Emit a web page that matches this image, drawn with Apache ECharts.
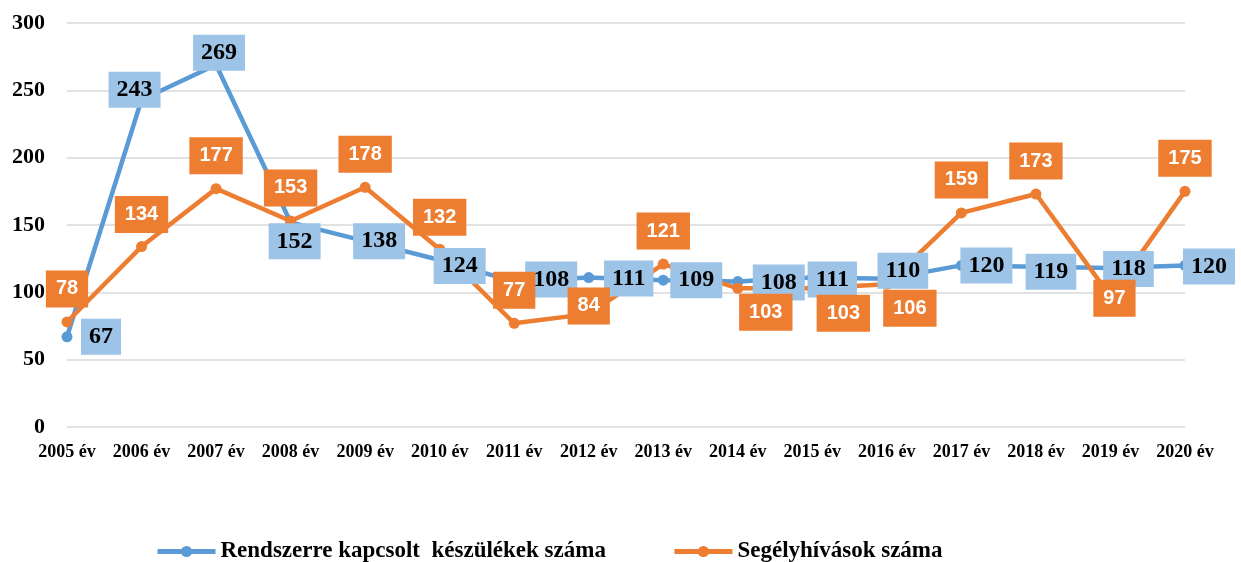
<!DOCTYPE html>
<html>
<head>
<meta charset="utf-8">
<script src="https://cdn.jsdelivr.net/npm/echarts@6/dist/echarts.min.js"></script>
<style>
  html, body { margin: 0; padding: 0; background: #fff; }
  #chart { width: 1241px; height: 562px; }
</style>
</head>
<body>
<div id="chart"></div>
<script>
var years = ['2005 év', '2006 év', '2007 év', '2008 év', '2009 év', '2010 év', '2011 év', '2012 év',
    '2013 év', '2014 év', '2015 év', '2016 év', '2017 év', '2018 év', '2019 év', '2020 év'];

var keszulekek = [67, 243, 269, 152, 138, 124, 108, 111, 109, 108, 111, 110, 120, 119, 118, 120];
var hivasok = [78, 134, 177, 153, 178, 132, 77, 84, 121, 103, 103, 106, 159, 173, 97, 175];

var seriesNames = ['Rendszerre kapcsolt  készülékek száma', 'Segélyhívások száma'];

// label offsets from the point (px), like the hand-placed labels in the original
var blueOffsets = [[34, 0], [-7, -10], [3, -12], [4, 19], [14, 0], [20, 6], [37, -2], [40, 1],
    [33, 0], [41, 1], [20, 2], [16, -8], [25, 0], [15, 5], [18, 1], [24, 1]];
var orangeOffsets = [[0, -33], [0, -32], [0, -33], [0, -33], [0, -33], [0, -32], [0, -33], [0, -8],
    [0, -33], [28, 24], [31, 25], [23, 24], [0, -33], [0, -33], [4, 2], [0, -33]];

function withOffsets(values, offsets) {
    return values.map(function (v, i) {
        return { value: v, label: { offset: offsets[i] } };
    });
}

var chart = echarts.init(document.getElementById('chart'));

var option = {
    animation: false,
    grid: { left: 67, right: 56, top: 23, bottom: 135 },
    legend: {
        data: seriesNames,
        left: 150,
        top: 535,
        itemWidth: 58,
        itemHeight: 14,
        itemGap: 66,
        lineStyle: { width: 5 },
        textStyle: { fontFamily: 'Liberation Serif', fontWeight: 'bold', fontSize: 23, color: '#000' }
    },
    xAxis: {
        type: 'category',
        data: years,
        boundaryGap: false,
        axisLine: { show: false },
        axisTick: { show: false },
        axisLabel: {
            interval: 0,
            margin: 16,
            color: '#000',
            fontFamily: 'Liberation Serif',
            fontWeight: 'bold',
            fontSize: 18
        }
    },
    yAxis: {
        type: 'value',
        min: 0,
        max: 300,
        interval: 50,
        axisLine: { show: false },
        axisTick: { show: false },
        splitLine: { lineStyle: { color: '#D9D9D9', width: 1.5 } },
        axisLabel: {
            margin: 22,
            color: '#000',
            fontFamily: 'Liberation Serif',
            fontWeight: 'bold',
            fontSize: 22
        }
    },
    series: [
        {
            name: seriesNames[0],
            type: 'line',
            data: withOffsets(keszulekek, blueOffsets),
            color: '#5B9BD5',
            lineStyle: { width: 4.5 },
            symbol: 'circle',
            symbolSize: 11,
            label: {
                show: true,
                position: 'inside',
                backgroundColor: '#9DC3E6',
                color: '#000',
                fontFamily: 'Liberation Serif',
                fontWeight: 'bold',
                fontSize: 24,
                lineHeight: 22,
                padding: [7, 8]
            }
        },
        {
            name: seriesNames[1],
            type: 'line',
            data: withOffsets(hivasok, orangeOffsets),
            color: '#ED7D31',
            lineStyle: { width: 4.5 },
            symbol: 'circle',
            symbolSize: 11,
            label: {
                show: true,
                position: 'inside',
                backgroundColor: '#ED7D31',
                color: '#fff',
                fontFamily: 'Liberation Sans',
                fontWeight: 'bold',
                fontSize: 20,
                lineHeight: 21,
                padding: [8, 10]
            }
        }
    ]
};

chart.setOption(option);
</script>
</body>
</html>
